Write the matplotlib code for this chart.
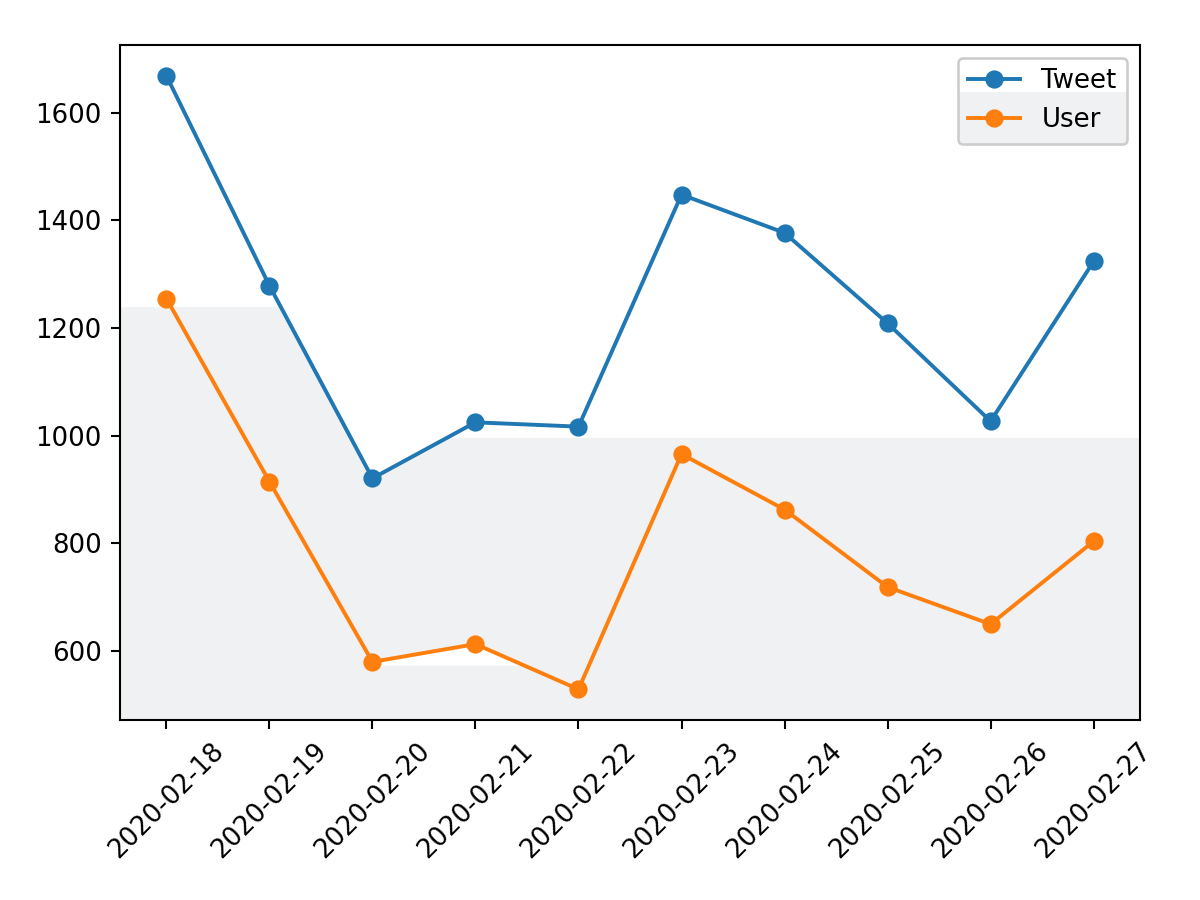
import numpy as np
import matplotlib
matplotlib.use("Agg")
import matplotlib.pyplot as plt
from matplotlib.patches import Rectangle

dates = ["2020-02-18", "2020-02-19", "2020-02-20", "2020-02-21", "2020-02-22",
         "2020-02-23", "2020-02-24", "2020-02-25", "2020-02-26", "2020-02-27"]
tweet = [1669, 1279, 921, 1025, 1017, 1448, 1377, 1209, 1027, 1324]
user = [1255, 915, 580, 613, 529, 966, 863, 719, 650, 804]

# light grey background patch seen behind the lines
shade = "#f0f1f3"
shade_hi, shade_lo, shade_cut = 1240, 997, 2.73
notch_floor = 574

fig, ax = plt.subplots(figsize=(6.4, 4.8), dpi=187.5)
fig.subplots_adjust(left=0.1, right=0.95, top=0.95, bottom=0.2)

x = np.arange(len(dates))
ax.plot(x, tweet, marker="o", label="Tweet", zorder=3)
ax.plot(x, user, marker="o", label="User", zorder=3)
ax.set_xticks(x)
ax.set_xticklabels(dates, rotation=45)
ax.set_yticks([600, 800, 1000, 1200, 1400, 1600])

x0, x1 = ax.get_xlim()
y0, y1 = ax.get_ylim()
xs = np.linspace(x0, x1, 2000)
level = np.where(xs < shade_cut, shade_hi, shade_lo)
top = np.minimum(np.interp(xs, x, tweet), level)
ax.fill_between(xs, y0, top, color=shade, lw=0, zorder=1)

# white notch under the user line
xn = np.linspace(2, 4, 400)
un = np.interp(xn, x, user)
ax.fill_between(xn, notch_floor, un, where=un > notch_floor, color="white",
                lw=0, zorder=1.5, interpolate=True)
ax.set_xlim(x0, x1)
ax.set_ylim(y0, y1)

leg = ax.legend(loc="upper right")
fig.canvas.draw()
bb = leg.get_window_extent().transformed(ax.transAxes.inverted())
frame = leg.get_frame()
frame.set_alpha(None)
frame.set_facecolor((1, 1, 1, 0))
ax.add_patch(Rectangle((bb.x0, bb.y0), bb.width, bb.height * 0.6,
                       transform=ax.transAxes, color=shade, lw=0, zorder=4))
ax.add_patch(Rectangle((bb.x0, bb.y0 + bb.height * 0.6), bb.width, bb.height * 0.4,
                       transform=ax.transAxes, color="white", lw=0, zorder=4))

fig.savefig("out.png", dpi=187.5)
